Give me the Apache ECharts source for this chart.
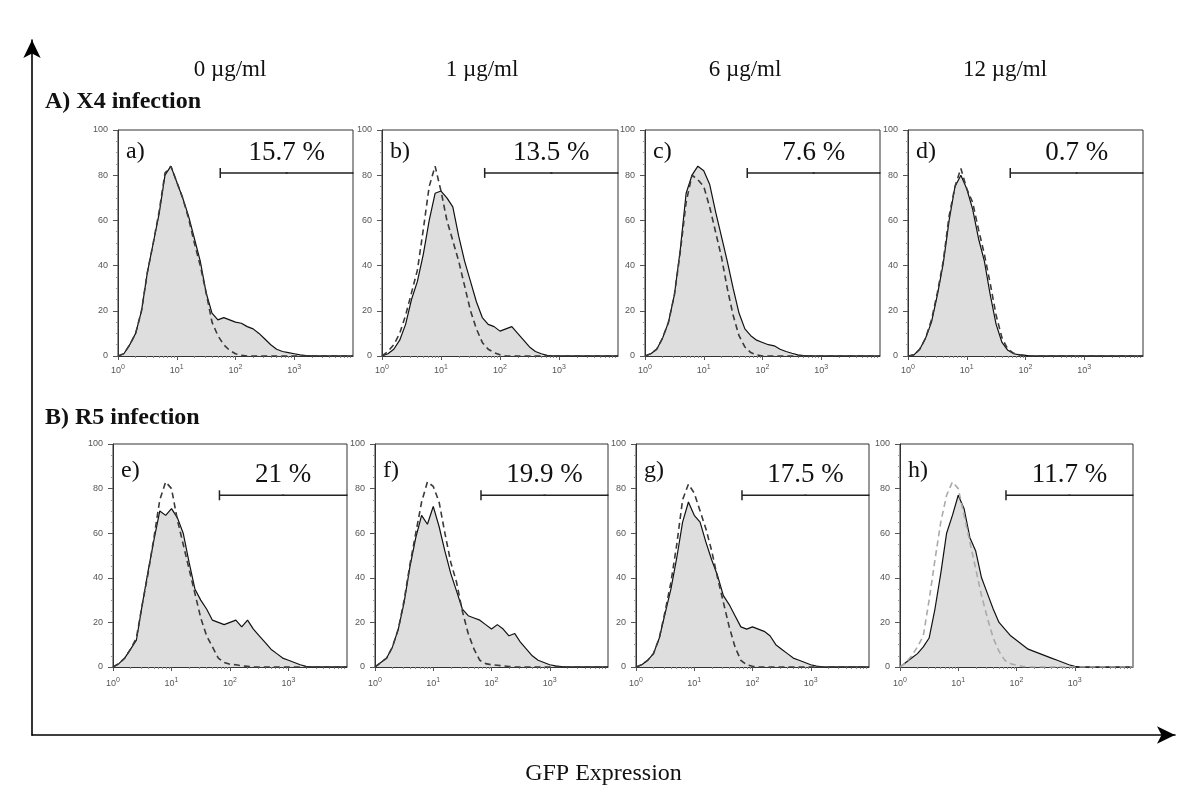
<!DOCTYPE html>
<html>
<head>
<meta charset="utf-8">
<script src="https://cdn.jsdelivr.net/npm/echarts@6/dist/echarts.min.js"></script>
<style>html,body{margin:0;padding:0;background:#fff}#c{width:1200px;height:799px}</style>
</head>
<body>
<div id="c"></div>
<script>
// ---------- DATA ----------
// GFP fluorescence bins (log-spaced channel centres, 10^0 .. 10^4)
const BINS = [1, 1.259, 1.585, 1.995, 2.512, 3.162, 3.981, 5.012, 6.31, 7.943,
  10, 12.59, 15.85, 19.95, 25.12, 31.62, 39.81, 50.12, 63.1, 79.43,
  100, 125.9, 158.5, 199.5, 251.2, 316.2, 398.1, 501.2, 631, 794.3,
  1000, 1259, 1585, 1995, 2512, 3162, 3981, 5012, 6310, 7943, 10000];

// A) X4 infection  (sample = filled histogram, control = dashed)
const a_sample  = [0, 1, 5, 10, 20, 37, 50, 63, 80, 84, 77,  70, 62, 52, 42, 28, 19, 16, 17, 16, 15,  14.5, 13, 12, 10, 7.5, 5, 3, 2, 1.5, 1,  0.5, 0.2, 0, 0, 0, 0, 0, 0, 0, 0];
const a_control = [0, 1, 5, 10, 20, 37, 50, 64, 81, 84, 77,  70, 61, 50, 40, 28, 15, 9, 5, 2.5, 1,  0.3, 0, 0, 0, 0, 0, 0, 0, 0, 0,  0, 0, 0, 0, 0, 0, 0, 0, 0, 0];
const b_sample  = [0, 1, 3, 7, 14, 25, 33, 45, 60, 72, 73,  70, 66, 53, 42, 33, 24, 17, 14, 13, 11,  12, 13, 10, 7, 4, 2, 1, 0.3, 0, 0,  0, 0, 0, 0, 0, 0, 0, 0, 0, 0];
const b_control = [0, 2, 5, 10, 18, 28, 38, 56, 75, 84, 73,  60, 51, 42, 31, 20, 12, 6, 3, 1.5, 0.5,  0, 0, 0, 0, 0, 0, 0, 0, 0, 0,  0, 0, 0, 0, 0, 0, 0, 0, 0, 0];
const c_sample  = [0, 1, 3, 8, 15, 27, 47, 72, 80, 84, 82,  76, 64, 53, 42, 30, 19, 12, 9, 7, 6,  5, 4.5, 3, 2, 1.2, 0.5, 0.2, 0, 0, 0,  0, 0, 0, 0, 0, 0, 0, 0, 0, 0];
const c_control = [0, 1, 3, 8, 15, 27, 46, 68, 80, 78, 75,  66, 55, 44, 30, 18, 9, 4, 1.5, 0.5, 0,  0, 0, 0, 0, 0, 0, 0, 0, 0, 0,  0, 0, 0, 0, 0, 0, 0, 0, 0, 0];
const d_sample  = [0, 0.5, 3, 8, 15, 27, 41, 60, 75, 80, 74,  65, 52, 42, 27, 14, 6, 2.5, 1, 0.5, 0.3,  0, 0, 0, 0, 0, 0, 0, 0, 0, 0,  0, 0, 0, 0, 0, 0, 0, 0, 0, 0];
const d_control = [0, 0.5, 3, 8, 16, 28, 42, 62, 75, 83, 74,  68, 56, 45, 32, 18, 8, 3, 1.2, 0.5, 0.2,  0, 0, 0, 0, 0, 0, 0, 0, 0, 0,  0, 0, 0, 0, 0, 0, 0, 0, 0, 0];
// B) R5 infection
const e_sample  = [0, 1.5, 4, 8, 12, 28, 43, 57, 70, 68, 71,  67, 60, 47, 35, 30, 26, 21, 20, 19, 20,  21, 18, 21, 17, 14, 11, 8, 6, 4, 3,  2, 1, 0.3, 0, 0, 0, 0, 0, 0, 0];
const e_control = [0, 1.5, 4, 8, 13, 28, 42, 58, 75, 83, 80,  66, 55, 44, 33, 22, 14, 9, 4, 2, 1.2,  1, 0.5, 0.3, 0, 0, 0, 0, 0, 0, 0,  0, 0, 0, 0, 0, 0, 0, 0, 0, 0];
const f_sample  = [0, 2, 4, 9, 17, 29, 45, 58, 68, 64, 72,  63, 52, 42, 34, 26, 23, 22, 21, 19, 17,  19, 17, 14, 15, 11, 8, 5, 3, 2, 1,  0.5, 0.2, 0, 0, 0, 0, 0, 0, 0, 0];
const f_control = [0, 2, 4, 9, 17, 30, 46, 60, 74, 83, 81,  74, 60, 47, 38, 25, 15, 8, 3, 1.5, 1,  0.8, 0.5, 0.2, 0, 0, 0, 0, 0, 0, 0,  0, 0, 0, 0, 0, 0, 0, 0, 0, 0];
const g_sample  = [0, 1, 3, 6, 13, 24, 35, 49, 65, 74, 68,  65, 56, 48, 41, 32, 28, 23, 18, 17, 18,  17, 16, 14, 10, 8, 6, 4, 3, 2, 1,  0.4, 0.1, 0, 0, 0, 0, 0, 0, 0, 0];
const g_control = [0, 1, 3, 6, 13, 25, 38, 55, 75, 82, 78,  70, 62, 52, 40, 29, 18, 9, 3, 1, 0.3,  0, 0, 0, 0, 0, 0, 0, 0, 0, 0,  0, 0, 0, 0, 0, 0, 0, 0, 0, 0];
const h_sample  = [0, 2, 4, 6, 9, 13, 26, 42, 60, 68, 77,  71, 58, 52, 40, 33, 26, 20, 17, 14, 12,  10, 8, 7, 6, 5, 4, 3, 2, 1, 0.3,  0, 0, 0, 0, 0, 0, 0, 0, 0, 0];
const h_control = [0, 2, 5, 9, 14, 30, 48, 65, 77, 83, 80,  68, 56, 44, 32, 22, 13, 7, 3, 1.5, 0.8,  0.3, 0, 0, 0, 0, 0, 0, 0, 0, 0,  0, 0, 0, 0, 0, 0, 0, 0, 0, 0];

const PANEL_LETTERS = ['a)', 'b)', 'c)', 'd)', 'e)', 'f)', 'g)', 'h)'];
const PERCENTS = ['15.7 %', '13.5 %', '7.6 %', '0.7 %', '21 %', '19.9 %', '17.5 %', '11.7 %'];
const GATE_START = [55, 55, 55, 55, 66, 66, 66, 66];   // GFP value where the marker starts
const GATE_LEVEL = [81, 81, 81, 81, 77, 77, 77, 77];   // marker height (% of max)
const CONCENTRATIONS = ['0 µg/ml', '1 µg/ml', '6 µg/ml', '12 µg/ml'];
const ROW_TITLES = ['A) X4 infection', 'B) R5 infection'];
const Y_TICKS = [0, 20, 40, 60, 80, 100];
const X_DECADE_LABELS = ['0', '1', '2', '3'];
const X_MINOR_TICKS = [2,3,4,5,6,7,8,9, 20,30,40,50,60,70,80,90, 200,300,400,500,600,700,800,900, 2000,3000,4000,5000,6000,7000,8000,9000];
const X_TITLE = 'GFP Expression';

const SAMPLES = [a_sample, b_sample, c_sample, d_sample, e_sample, f_sample, g_sample, h_sample];
const CONTROLS = [a_control, b_control, c_control, d_control, e_control, f_control, g_control, h_control];

// ---------- LAYOUT ----------
const PANELS = [
  {left: 118, top: 130, width: 235, height: 226},
  {left: 382, top: 130, width: 236, height: 226},
  {left: 645, top: 130, width: 235, height: 226},
  {left: 908, top: 130, width: 235, height: 226},
  {left: 113, top: 444, width: 234, height: 223},
  {left: 375, top: 444, width: 233, height: 223},
  {left: 636, top: 444, width: 233, height: 223},
  {left: 900, top: 444, width: 233, height: 223}
];
const HEADER_X = [230, 482, 745, 1005];
const SERIF = '"Liberation Serif", "Times New Roman", serif';
const SANS = '"Liberation Sans", Arial, sans-serif';

const grid = [], xAxis = [], yAxis = [], series = [], graphic = [];

PANELS.forEach((p, i) => {
  grid.push({left: p.left, top: p.top, width: p.width, height: p.height,
    show: true, borderColor: '#333', borderWidth: 1, backgroundColor: 'transparent'});
  xAxis.push({
    type: 'log', logBase: 10, gridIndex: i, min: 1, max: 10000,
    axisLine: {onZero: false, lineStyle: {color: '#333', width: 1}},
    axisTick: {show: true, length: 4, lineStyle: {color: '#555'}},
    splitLine: {show: false},
    axisLabel: {
      margin: i < 4 ? 8 : 10, color: '#555', fontFamily: SANS,
      showMaxLabel: false,
      formatter: v => {
        const e = Math.round(Math.log10(v));
        if (e < 0 || e >= X_DECADE_LABELS.length) return '';
        return '{b|10}{s|' + X_DECADE_LABELS[e] + '}';
      },
      rich: {b: {fontSize: 9, color: '#555', fontFamily: SANS},
             s: {fontSize: 7, color: '#555', fontFamily: SANS, padding: [0, 0, 7, 0]}}
    }
  });
  xAxis.push({
    type: 'log', logBase: 10, gridIndex: i, min: 1, max: 10000, position: 'bottom',
    axisLine: {show: false},
    axisTick: {show: true, length: 2, customValues: X_MINOR_TICKS, lineStyle: {color: '#888'}},
    axisLabel: {show: false}, splitLine: {show: false}
  });
  yAxis.push({
    type: 'value', gridIndex: i, min: 0, max: 100, interval: 20,
    axisLine: {show: true, onZero: false, lineStyle: {color: '#333', width: 1}},
    axisTick: {show: true, length: 5, lineStyle: {color: '#555'}},
    minorTick: {show: true, splitNumber: 4, length: 2, lineStyle: {color: '#999'}},
    splitLine: {show: false},
    axisLabel: {fontSize: 9, color: '#555', fontFamily: SANS, margin: 10,
      formatter: v => Y_TICKS.indexOf(v) >= 0 ? String(v) : ''}
  });
  const xi = 2 * i;
  series.push({
    type: 'line', xAxisIndex: xi, yAxisIndex: i, symbol: 'none', z: 2,
    data: BINS.map((b, k) => [b, SAMPLES[i][k]]),
    lineStyle: {color: '#111', width: 1.2},
    areaStyle: {color: '#dedede', opacity: 1}
  });
  series.push({
    type: 'line', xAxisIndex: xi, yAxisIndex: i, symbol: 'none', z: 3,
    data: BINS.map((b, k) => [b, CONTROLS[i][k]]),
    lineStyle: {color: i === 7 ? '#aaa' : '#3a3a3a', width: 1.6, type: [6, 4]}
  });
  const mid = Math.sqrt(GATE_START[i] * 10000);
  series.push({
    type: 'line', xAxisIndex: xi, yAxisIndex: i, z: 4, clip: false, showSymbol: true, showAllSymbol: true,
    lineStyle: {color: '#222', width: 1.5}, itemStyle: {color: '#222'},
    data: [
      {value: [GATE_START[i], GATE_LEVEL[i]], symbol: 'rect', symbolSize: [1.5, 10]},
      {value: [mid, GATE_LEVEL[i]], symbol: 'rect', symbolSize: [2, 1.5],
       label: {show: true, position: 'top', distance: 6, formatter: PERCENTS[i],
               fontFamily: SERIF, fontSize: 27, color: '#111'}},
      {value: [10000, GATE_LEVEL[i]], symbol: 'rect', symbolSize: [1, 1.5]}
    ]
  });
  graphic.push({type: 'text', x: p.left + 8, y: p.top + (i < 4 ? 22 : 27),
    style: {text: PANEL_LETTERS[i], font: '24px ' + SERIF, fill: '#111', align: 'left', verticalAlign: 'middle'}});
});

// big L-shaped axes with arrows
grid.push({left: 32, top: 40, width: 1143, height: 695});
xAxis.push({type: 'value', gridIndex: 8, min: 0, max: 1,
  axisLine: {show: true, onZero: false, symbol: ['none', 'arrow'], symbolSize: [13, 18], lineStyle: {color: '#000', width: 1.6}},
  axisTick: {show: false}, axisLabel: {show: false}, splitLine: {show: false},
  name: X_TITLE, nameLocation: 'middle', nameGap: 27,
  nameTextStyle: {fontFamily: SERIF, fontSize: 24, color: '#111'}});
yAxis.push({type: 'value', gridIndex: 8, min: 0, max: 1,
  axisLine: {show: true, onZero: false, symbol: ['none', 'arrow'], symbolSize: [13, 18], lineStyle: {color: '#000', width: 1.6}},
  axisTick: {show: false}, axisLabel: {show: false}, splitLine: {show: false}});

CONCENTRATIONS.forEach((t, j) => {
  graphic.push({type: 'text', x: HEADER_X[j], y: 70,
    style: {text: t, font: '23px ' + SERIF, fill: '#111', align: 'center', verticalAlign: 'middle'}});
});
ROW_TITLES.forEach((t, j) => {
  graphic.push({type: 'text', x: 45, y: j === 0 ? 102 : 418,
    style: {text: t, font: 'bold 24px ' + SERIF, fill: '#111', align: 'left', verticalAlign: 'middle'}});
});

const chart = echarts.init(document.getElementById('c'), null, {renderer: 'canvas'});
chart.setOption({animation: false, backgroundColor: '#fff', grid, xAxis, yAxis, series, graphic});
</script>
</body>
</html>
